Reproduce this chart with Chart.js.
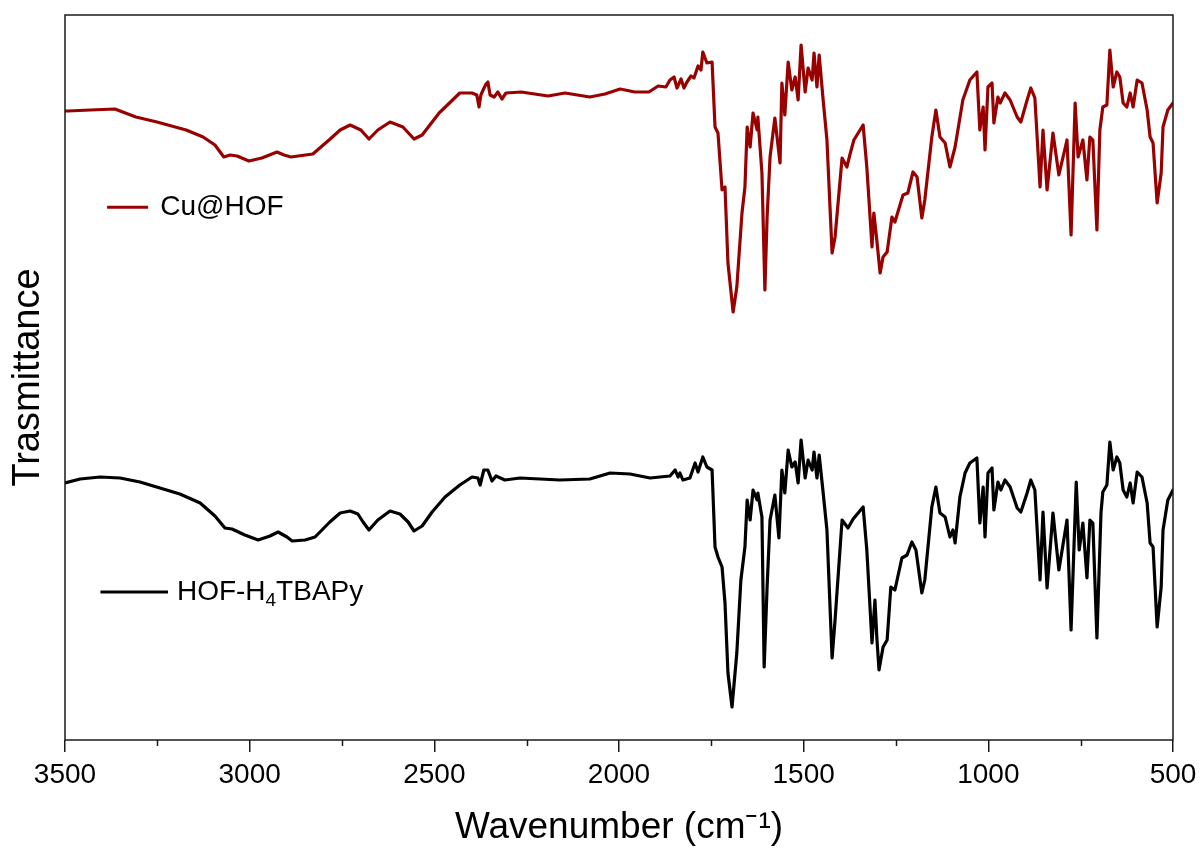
<!DOCTYPE html>
<html>
<head>
<meta charset="utf-8">
<title>FTIR spectra</title>
<script src="https://cdn.jsdelivr.net/npm/chart.js@4.4.1/dist/chart.umd.min.js"></script>
<style>
    html, body { margin: 0; padding: 0; background: #fff; }
    #wrap { width: 1200px; height: 853px; }
</style>
</head>
<body>
<div id="wrap"><canvas id="ftirChart" width="1200" height="853"></canvas></div>
<script>
// x range of the spectrum (cm-1), drawn high -> low
var X_MIN = 500;
var X_MAX = 3500;
var X_STEP = 500;
var X_MINOR = [3250, 2750, 2250, 1750, 1250, 750];

// Cu@HOF trace (offset upwards, arbitrary units)
var cuWave = [3500, 3492, 3432, 3365, 3308, 3251, 3172, 3126, 3094, 3070, 3053, 3034, 3002, 2967, 2926, 2907, 2888, 2829, 2785, 2755,
    2728, 2699, 2677, 2653, 2620, 2585, 2555, 2533, 2487, 2431, 2398, 2385, 2379, 2374, 2368, 2360, 2355, 2349, 2338, 2328,
    2317, 2306, 2265, 2192, 2146, 2079, 2038, 1997, 1957, 1919, 1894, 1873, 1862, 1851, 1843, 1832, 1824, 1816, 1805, 1797,
    1786, 1778, 1773, 1762, 1748, 1740, 1732, 1721, 1713, 1705, 1691, 1681, 1667, 1659, 1653, 1645, 1637, 1626, 1624, 1613,
    1605, 1599, 1591, 1578, 1564, 1559, 1551, 1542, 1532, 1523, 1515, 1507, 1496, 1488, 1477, 1472, 1464, 1458, 1448, 1437,
    1423, 1415, 1396, 1383, 1375, 1364, 1339, 1329, 1315, 1310, 1302, 1293, 1285, 1274, 1261, 1253, 1231, 1218, 1204, 1193,
    1180, 1172, 1153, 1142, 1131, 1117, 1104, 1090, 1069, 1050, 1031, 1023, 1014, 1009, 1001, 990, 985, 974, 968, 955,
    941, 922, 912, 895, 885, 874, 860, 852, 841, 825, 809, 787, 776, 765, 757, 744, 733, 725, 717, 706,
    698, 690, 679, 671, 662, 652, 644, 635, 625, 616, 608, 597, 584, 570, 562, 554, 543, 532, 527, 514, 500];
var cuTrans = [629, 629, 630, 631, 623, 618, 610, 603, 595, 583, 585, 584, 579, 582, 588, 585, 583, 586, 600, 610,
    615, 610, 601, 610, 618, 613, 601, 605, 627, 647, 647, 645, 633, 645, 650, 656, 658, 645, 643, 648,
    641, 647, 648, 644, 647, 643, 646, 651, 648, 648, 654, 653, 660, 663, 652, 661, 652, 658, 664, 662,
    674, 670, 688, 677, 678, 613, 607, 550, 553, 477, 428, 453, 527, 553, 613, 593, 627, 610, 623, 567,
    450, 523, 583, 622, 577, 657, 625, 678, 650, 663, 640, 695, 648, 672, 660, 687, 653, 685, 643, 600,
    487, 503, 582, 573, 585, 600, 615, 573, 493, 527, 500, 467, 483, 488, 523, 518, 545, 547, 568, 563,
    522, 540, 603, 630, 603, 597, 573, 593, 640, 660, 668, 610, 633, 590, 653, 657, 617, 643, 637, 647,
    640, 623, 618, 640, 652, 642, 553, 610, 550, 607, 565, 600, 505, 637, 583, 600, 560, 603, 600, 510,
    610, 633, 635, 690, 653, 668, 663, 637, 633, 647, 633, 660, 657, 630, 603, 597, 537, 567, 613, 630, 637];

// HOF-H4TBAPy trace
var hofWave = [3500, 3459, 3405, 3351, 3297, 3243, 3189, 3134, 3094, 3067, 3048, 3013, 2977, 2945, 2923, 2899, 2885, 2850, 2823, 2783,
    2755, 2728, 2707, 2693, 2677, 2653, 2620, 2593, 2571, 2555, 2533, 2506, 2471, 2431, 2398, 2382, 2376, 2366, 2355, 2344,
    2333, 2309, 2268, 2160, 2079, 2024, 1970, 1916, 1862, 1848, 1840, 1835, 1827, 1808, 1794, 1786, 1773, 1762, 1748, 1740,
    1732, 1721, 1713, 1705, 1694, 1681, 1670, 1659, 1653, 1645, 1637, 1626, 1624, 1613, 1607, 1599, 1591, 1578, 1567, 1559,
    1551, 1542, 1532, 1523, 1515, 1507, 1496, 1488, 1477, 1472, 1464, 1458, 1448, 1437, 1423, 1415, 1396, 1380, 1366, 1339,
    1329, 1315, 1307, 1302, 1296, 1285, 1274, 1264, 1253, 1234, 1220, 1207, 1196, 1180, 1172, 1153, 1142, 1131, 1117, 1104,
    1096, 1090, 1077, 1063, 1050, 1031, 1023, 1014, 1009, 1001, 990, 985, 974, 966, 955, 941, 922, 912, 895, 885,
    874, 860, 852, 841, 825, 809, 787, 776, 762, 754, 744, 733, 725, 717, 706, 695, 690, 679, 671, 662,
    652, 644, 635, 625, 616, 608, 597, 584, 570, 562, 554, 543, 532, 527, 514, 500];
var hofTrans = [257, 261, 263, 262, 258, 252, 246, 237, 224, 212, 211, 205, 200, 204, 208, 203, 199, 200, 203, 218,
    227, 229, 226, 218, 210, 220, 229, 226, 218, 209, 214, 228, 243, 255, 263, 262, 255, 270, 270, 259,
    264, 260, 262, 260, 261, 267, 266, 262, 264, 270, 263, 267, 260, 262, 277, 268, 283, 273, 270, 193,
    183, 173, 137, 67, 33, 87, 160, 193, 240, 220, 250, 240, 247, 223, 73, 153, 220, 245, 202, 270,
    247, 290, 273, 278, 257, 300, 262, 280, 270, 288, 262, 285, 250, 210, 82, 120, 220, 212, 221, 233,
    190, 97, 140, 103, 70, 93, 100, 153, 150, 182, 185, 198, 190, 147, 160, 233, 253, 227, 223, 203,
    210, 197, 243, 267, 277, 282, 217, 253, 203, 267, 272, 230, 258, 250, 260, 253, 232, 228, 247, 260,
    250, 160, 228, 152, 227, 170, 220, 110, 258, 190, 217, 162, 220, 217, 102, 227, 248, 255, 298, 270,
    283, 277, 250, 243, 257, 237, 268, 263, 237, 197, 193, 113, 153, 210, 240, 250];

var Y_MIN = 0;
var Y_MAX = 725;

document.addEventListener('DOMContentLoaded', function () {
    var canvas = document.getElementById('ftirChart');
    var FONT = 'Arial, "Liberation Sans", sans-serif';
    var RED = '#990000';
    var INK = '#000000';

    function toPoints(xs, ys) {
        return xs.map(function (x, i) { return { x: x, y: ys[i] }; });
    }

    // frame round the plot, minor ticks and the two text labels
    var decor = {
        id: 'decor',
        afterDraw: function (chart) {
            var ctx = chart.ctx;
            var a = chart.chartArea;
            var xs = chart.scales.x;
            ctx.save();
            ctx.strokeStyle = '#1a1a1a';
            ctx.lineWidth = 1.5;
            ctx.strokeRect(a.left, a.top, a.right - a.left, a.bottom - a.top);

            X_MINOR.forEach(function (w) {
                var px = Math.round(xs.getPixelForValue(w)) + 0.5;
                ctx.beginPath();
                ctx.moveTo(px, a.bottom);
                ctx.lineTo(px, a.bottom + 6);
                ctx.stroke();
            });

            var w = a.right - a.left;
            var h = a.bottom - a.top;

            // Cu@HOF label
            var ly = a.top + h * 0.265;
            ctx.lineWidth = 3;
            ctx.strokeStyle = RED;
            ctx.beginPath();
            ctx.moveTo(a.left + w * 0.038, ly);
            ctx.lineTo(a.left + w * 0.075, ly);
            ctx.stroke();
            ctx.fillStyle = INK;
            ctx.font = '28px ' + FONT;
            ctx.textBaseline = 'middle';
            ctx.fillText('Cu@HOF', a.left + w * 0.086, ly);

            // HOF-H4TBAPy label, with subscript 4
            ly = a.top + h * 0.796;
            ctx.strokeStyle = INK;
            ctx.beginPath();
            ctx.moveTo(a.left + w * 0.032, ly);
            ctx.lineTo(a.left + w * 0.093, ly);
            ctx.stroke();
            var tx = a.left + w * 0.101;
            ctx.font = '28px ' + FONT;
            ctx.fillText('HOF-H', tx, ly);
            tx += ctx.measureText('HOF-H').width;
            ctx.font = '19px ' + FONT;
            ctx.fillText('4', tx, ly + 9);
            tx += ctx.measureText('4').width;
            ctx.font = '28px ' + FONT;
            ctx.fillText('TBAPy', tx, ly);
            ctx.restore();
        }
    };

    new Chart(canvas, {
        type: 'line',
        data: {
            datasets: [
                {
                    label: 'Cu@HOF',
                    data: toPoints(cuWave, cuTrans),
                    borderColor: RED,
                    borderWidth: 3.2,
                    borderJoinStyle: 'round',
                    borderCapStyle: 'round',
                    pointRadius: 0,
                    tension: 0,
                    fill: false
                },
                {
                    label: 'HOF-H4TBAPy',
                    data: toPoints(hofWave, hofTrans),
                    borderColor: INK,
                    borderWidth: 3.2,
                    borderJoinStyle: 'round',
                    borderCapStyle: 'round',
                    pointRadius: 0,
                    tension: 0,
                    fill: false
                }
            ]
        },
        options: {
            responsive: false,
            animation: false,
            devicePixelRatio: 1,
            layout: { padding: { top: 15, right: 27, left: 0, bottom: 0 } },
            plugins: {
                legend: { display: false },
                tooltip: { enabled: false }
            },
            scales: {
                x: {
                    type: 'linear',
                    min: X_MIN,
                    max: X_MAX,
                    reverse: true,
                    afterFit: function (s) {
                        s.height = 113;
                        s.paddingLeft = 0;
                        s.paddingRight = 0;
                    },
                    ticks: {
                        stepSize: X_STEP,
                        color: INK,
                        padding: 6,
                        maxRotation: 0,
                        font: { family: FONT, size: 28 },
                        callback: function (v) { return String(v); }
                    },
                    grid: {
                        drawOnChartArea: false,
                        drawTicks: true,
                        tickLength: 12,
                        color: '#1a1a1a',
                        lineWidth: 1.5
                    },
                    border: { display: false },
                    title: {
                        display: true,
                        text: 'Wavenumber (cm\u207B\u00B9)',
                        color: INK,
                        font: { family: FONT, size: 37 },
                        padding: { top: 0, bottom: 3 }
                    }
                },
                y: {
                    min: Y_MIN,
                    max: Y_MAX,
                    afterFit: function (s) { s.width = 65; },
                    ticks: { display: false },
                    grid: { display: false },
                    border: { display: false },
                    title: {
                        display: true,
                        text: 'Trasmittance',
                        color: INK,
                        font: { family: FONT, size: 38 },
                        padding: { top: 6, bottom: 0 }
                    }
                }
            }
        },
        plugins: [decor]
    });
});
</script>
</body>
</html>
